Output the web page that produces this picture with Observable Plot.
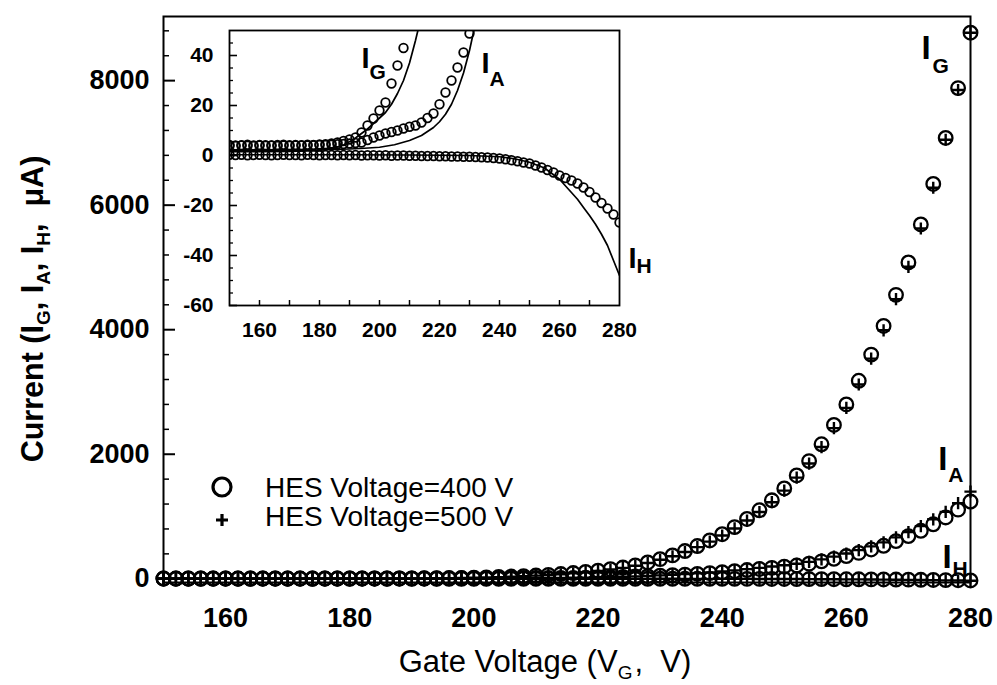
<!DOCTYPE html>
<html><head><meta charset="utf-8">
<script src="https://cdn.jsdelivr.net/npm/d3@7"></script>
<script src="https://cdn.jsdelivr.net/npm/@observablehq/plot@0.6"></script>
<style>
html,body{margin:0;padding:0;background:#fff;}
#wrap{position:relative;width:997px;height:685px;}
#wrap svg{position:absolute;}
</style></head><body><div id="wrap"></div>
<script>
// ---------- data ----------
const voltage = [150,152,154,156,158,160,162,164,166,168,170,172,174,176,178,180,182,184,186,188,190,192,194,196,198,200,202,204,206,208,210,212,214,216,218,220,222,224,226,228,230,232,234,236,238,240,242,244,246,248,250,252,254,256,258,260,262,264,266,268,270,272,274,276,278,280];

const iG400 = [4.2,4.0,4.1,4.3,4.0,4.2,4.1,4.0,4.2,4.3,4.1,4.2,4.0,4.3,4.2,4.4,4.5,4.8,5.2,
 5.8,6.4,7.2,9.2,12,14.8,18,21.2,28.8,36,
 43,52,63,76,92,110,130,153,180,215,
 262,315,375,445,525,615,715,830,960,1100,
 1260,1450,1660,1890,2160,2470,2800,3180,3600,4060,
 4560,5080,5690,6340,7080,7880,8770];
const iA400 = [3.9,3.8,4.0,3.9,3.8,4.0,3.9,4.0,3.8,4.0,3.9,4.0,4.1,4.0,4.1,4.2,4.2,4.3,4.5,
 4.6,4.8,5.0,5.2,6.2,7.2,8.0,8.8,9.4,10.0,
 10.8,11.5,12.0,13.2,15.0,16.8,20.5,25.2,30.0,35.2,
 41.2,48.8,57,67,78,91,106,122,140,157,
 175,194,213,243,280,320,365,415,470,530,
 605,685,770,875,985,1110,1240];
const iH400 = [0.3,0.2,0.3,0.1,0.2,0.3,0.2,0.1,0.2,0.3,0.2,0.2,0.1,0.3,0.2,0.1,0.2,0.2,0.1,0.2,
 0.1,0.2,0.0,0.1,0.1,0.0,0.1,-0.1,0.0,0.0,
 -0.1,-0.1,-0.2,-0.2,-0.2,-0.3,-0.3,-0.4,-0.4,-0.5,
 -0.5,-0.6,-0.7,-0.8,-1.0,-1.2,-1.5,-1.9,-2.3,-2.8,
 -3.2,-4.0,-4.8,-5.8,-6.8,-8.0,-9.0,-10.0,-11.2,-12.8,
 -14.6,-16.8,-19.0,-21.2,-23.6,-26.8];

const iG500 = [4.0,4.1,3.9,4.2,4.0,4.1,4.0,4.1,4.2,4.0,4.1,4.3,4.1,4.2,4.3,4.3,4.4,4.6,5.0,
 5.5,6.0,6.8,8.5,11,14,17,20.5,27,34,
 41,50,60,73,88,106,125,148,175,208,
 253,305,362,430,508,596,695,808,935,1072,
 1230,1415,1625,1850,2115,2420,2745,3120,3535,3990,
 4490,5010,5625,6280,7050,7850,8770];
const iA500 = [4.0,3.9,4.0,4.1,3.9,4.0,4.1,4.0,3.9,4.1,4.0,4.1,4.0,4.2,4.1,4.2,4.3,4.4,4.6,
 4.8,5.0,5.3,5.6,6.6,7.6,8.5,9.3,10,10.7,
 11.6,12.4,13.2,14.6,16.5,18.6,22.5,27.5,33,39,
 46,54,63,74,86,100,117,135,155,175,
 196,218,240,272,312,356,405,460,520,585,
 665,750,845,955,1075,1215,1400];
const iH500 = [0.2,0.3,0.2,0.2,0.1,0.2,0.3,0.2,0.2,0.1,0.2,0.3,0.2,0.1,0.2,0.2,0.1,0.2,0.1,0.1,
 0.2,0.1,0.1,0.0,0.1,0.0,0.0,-0.1,-0.1,0.0,
 -0.1,-0.2,-0.2,-0.3,-0.3,-0.4,-0.4,-0.5,-0.6,-0.7,
 -0.8,-0.9,-1.0,-1.2,-1.4,-1.7,-2.0,-2.4,-2.9,-3.4,
 -4.0,-4.8,-5.7,-6.8,-8.0,-9.4,-10.6,-12.0,-13.6,-15.4,
 -17.4,-19.8,-22.4,-25.2,-28.4,-32.0];

// inset solid curves
const lineGx = [150,160,170,180,185,188,190,192,194,196,198,200,202,204,206,208,210,212,214];
const lineGy = [1.5,1.5,1.6,2.0,3.0,4.2,5.5,7.0,8.8,10.6,12.8,15.0,17.2,20.5,24.8,30,37,46,56];
const lineAx = [150,160,170,180,190,195,200,205,210,214,218,220,222,224,226,228,230,232];
const lineAy = [2.0,2.0,2.0,2.2,2.6,2.9,3.3,4.3,6.0,8.0,11.2,13.5,16.5,20.5,26,33,42,53];
const lineHx = [150,170,190,210,230,240,245,250,255,260,263,266,268,270,272,274,276,278,280];
const lineHy = [0.3,0.3,0.3,0.2,0.0,-0.5,-1.3,-2.7,-5.0,-9.5,-13.5,-17.5,-20.8,-24,-27.5,-31.5,-36,-42,-48];

// ticks
const mainXTicks = [160,180,200,220,240,260,280];
const mainYTicks = [0,2000,4000,6000,8000];
const mainYMinor = [400,800,1200,1600,2400,2800,3200,3600,4400,4800,5200,5600,6400,6800,7200,7600,8400,8800];
const insetXTicks = [160,180,200,220,240,260,280];
const insetXMinor = [160,170,180,190,200,210,220,230,240,250,260,270];
const insetYTicks = [-60,-40,-20,0,20,40];
const insetYMinor = [-55,-50,-45,-35,-30,-25,-15,-10,-5,5,10,15,25,30,35,45];

// series labels (anchor in data units)
const mainLabels = [
  {main: "I", sub: "G", v: 272.1, i: 8355},
  {main: "I", sub: "A", v: 274.8, i: 1739},
  {main: "I", sub: "H", v: 275.5, i: 165}
];
const insetLabels = [
  {main: "I", sub: "G", v: 194.0, i: 35.2},
  {main: "I", sub: "A", v: 234.0, i: 33.2},
  {main: "I", sub: "H", v: 283.0, i: -44.8}
];
const legendItems = ["HES Voltage=400 V", "HES Voltage=500 V"];

// ---------- build rows ----------
const rows = (vals, series) => voltage.map((v, k) => ({v, i: vals[k], series}));
const data400 = [...rows(iG400, "G"), ...rows(iA400, "A"), ...rows(iH400, "H")];
const data500 = [...rows(iG500, "G"), ...rows(iA500, "A"), ...rows(iH500, "H")];
const lineRows = (xs, ys, series) => xs.map((x, k) => ({v: x, i: ys[k], series}));
const insetLines = [...lineRows(lineGx, lineGy, "G"), ...lineRows(lineAx, lineAy, "A"), ...lineRows(lineHx, lineHy, "H")];

const F = '"Liberation Sans", Arial, Helvetica, sans-serif';
const fmt = d => String(d);
const subDx = {G: 11, A: 10, H: 10};
const subDy = {G: 14, A: 12, H: 8};
const insSubDx = {G: 8, A: 8, H: 8};
const insSubDy = {G: 11, A: 13, H: 5};

// ---------- main chart ----------
const main = Plot.plot({
  width: 997, height: 685,
  marginLeft: 163, marginRight: 27, marginTop: 16, marginBottom: 103,
  style: {fontFamily: F, background: "transparent", color: "#000", overflow: "visible"},
  x: {domain: [150, 280]},
  y: {domain: [-60, 9030]},
  marks: [
    Plot.frame({stroke: "#000", strokeWidth: 2}),
    Plot.axisY(mainYMinor, {tickSize: -6, fill: "none", tickFormat: () => "", label: null, strokeWidth: 1.5}),
    Plot.axisY(mainYTicks, {tickSize: -12, fill: "none", tickFormat: () => "", label: null, strokeWidth: 2}),
    Plot.axisY(mainYTicks, {tickSize: 0, tickPadding: 14, tickFormat: fmt, label: null, fontSize: 27, fontWeight: "bold"}),
    Plot.axisX(mainXTicks, {tickSize: 0, tickPadding: 25, tickFormat: fmt, label: null, fontSize: 27, fontWeight: "bold"}),
    Plot.dot(data400, {x: "v", y: "i", r: 6.8, stroke: "#000", strokeWidth: 2.3}),
    Plot.dot(data500, {x: "v", y: "i", symbol: "plus", r: 4, stroke: "#000", strokeWidth: 2.4}),
    Plot.text(mainLabels, {x: "v", y: "i", text: "main", fontSize: 33, fontWeight: "bold", textAnchor: "start", lineAnchor: "bottom", fill: "#000"}),
    Plot.text(mainLabels, {x: "v", y: "i", text: "sub", fontSize: 21, fontWeight: "bold", textAnchor: "start", lineAnchor: "bottom", fill: "#000"})
  ]
});
main.style.left = "0px"; main.style.top = "0px";

// subscript offsets for main labels (style only)
d3.select(main).selectAll("g[aria-label=text]").filter((d, k) => k === 1)
  .selectAll("text").each(function(d, k) {
    const s = mainLabels[k].sub;
    const t = d3.select(this).attr("transform") || "";
    d3.select(this).attr("transform", t + ` translate(${subDx[s]},${subDy[s]})`);
  });

// axis titles and legend
const msvg = d3.select(main);
const xt = msvg.append("text").attr("x", 545).attr("y", 672).attr("text-anchor", "middle")
  .attr("font-family", F).attr("font-size", 31).attr("fill", "#000");
xt.append("tspan").text("Gate Voltage (V");
xt.append("tspan").attr("font-size", 19).attr("dy", 7).text("G");
xt.append("tspan").attr("dy", -7).attr("dx", 2).text(",  V)");

const yt = msvg.append("text").attr("transform", "translate(43,309) rotate(-90)").attr("text-anchor", "middle")
  .attr("font-family", F).attr("font-size", 30.5).attr("font-weight", "bold").attr("fill", "#000");
yt.append("tspan").text("Current (I");
yt.append("tspan").attr("font-size", 19).attr("dy", 7).text("G");
yt.append("tspan").attr("dy", -7).text(", I");
yt.append("tspan").attr("font-size", 19).attr("dy", 7).text("A");
yt.append("tspan").attr("dy", -7).text(", I");
yt.append("tspan").attr("font-size", 19).attr("dy", 7).text("H");
yt.append("tspan").attr("dy", -7).text(",  \u03BCA)");

const leg = msvg.append("g");
leg.append("circle").attr("cx", 222).attr("cy", 487).attr("r", 9).attr("fill", "none").attr("stroke", "#000").attr("stroke-width", 3.2);
leg.append("path").attr("d", "M216,520H228M222,514V526").attr("stroke", "#000").attr("stroke-width", 3.2);
legendItems.forEach((t, k) => {
  leg.append("text").attr("x", 265).attr("y", 497 + k * 29).attr("text-anchor", "start")
    .attr("font-family", F).attr("font-size", 28).attr("fill", "#000").text(t);
});

// ---------- inset ----------
const inset = Plot.plot({
  width: 520, height: 325,
  marginLeft: 70, marginRight: 60, marginTop: 10, marginBottom: 40,
  style: {fontFamily: F, background: "transparent", color: "#000", overflow: "visible"},
  x: {domain: [150, 280]},
  y: {domain: [-60, 50]},
  marks: [
    Plot.frame({stroke: "#000", strokeWidth: 1.8, fill: "#fff"}),
    Plot.axisX(insetXMinor, {tickSize: -5, fill: "none", tickFormat: () => "", label: null, strokeWidth: 1.5}),
    Plot.axisX(insetXTicks, {tickSize: 0, tickPadding: 17, tickFormat: fmt, label: null, fontSize: 21, fontWeight: "bold"}),
    Plot.axisY(insetYMinor, {tickSize: -4, fill: "none", tickFormat: () => "", label: null, strokeWidth: 1.3}),
    Plot.axisY(insetYTicks, {tickSize: -8, fill: "none", tickFormat: () => "", label: null, strokeWidth: 1.6}),
    Plot.axisY(insetYTicks, {tickSize: 0, tickPadding: 16, tickFormat: fmt, label: null, fontSize: 21, fontWeight: "bold"}),
    Plot.line(insetLines, {x: "v", y: "i", z: "series", stroke: "#000", strokeWidth: 1.7, clip: true}),
    Plot.dot(data400, {x: "v", y: "i", r: 4.3, stroke: "#000", strokeWidth: 1.8, clip: true}),
    Plot.text(insetLabels, {x: "v", y: "i", text: "main", fontSize: 29, fontWeight: "bold", textAnchor: "start", lineAnchor: "bottom", fill: "#000"}),
    Plot.text(insetLabels, {x: "v", y: "i", text: "sub", fontSize: 21, fontWeight: "bold", textAnchor: "start", lineAnchor: "bottom", fill: "#000"})
  ]
});
inset.style.left = "159px"; inset.style.top = "20px";
d3.select(inset).selectAll("g[aria-label=text]").filter((d, k) => k === 1)
  .selectAll("text").each(function(d, k) {
    const s = insetLabels[k].sub;
    const t = d3.select(this).attr("transform") || "";
    d3.select(this).attr("transform", t + ` translate(${insSubDx[s]},${insSubDy[s]})`);
  });

document.getElementById("wrap").append(main, inset);
</script>
</body></html>
